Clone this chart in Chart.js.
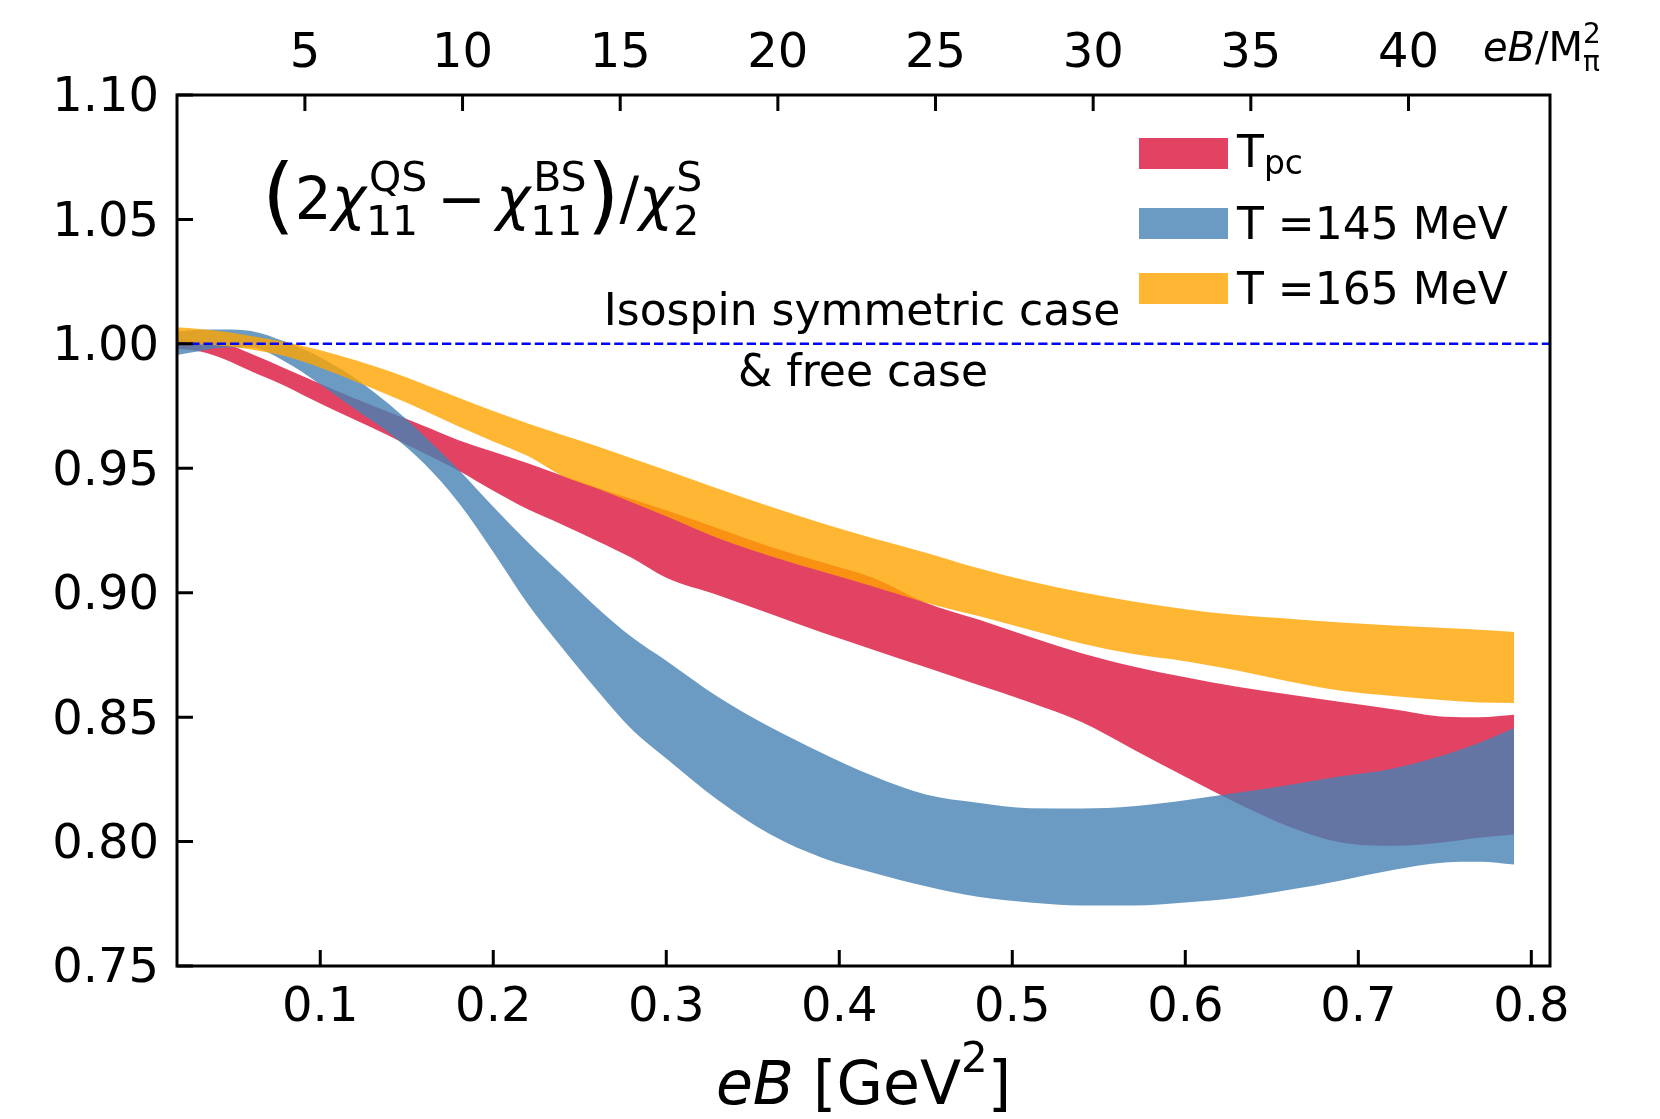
<!DOCTYPE html>
<html>
<head>
<meta charset="utf-8">
<title>Strangeness correlator ratio vs eB</title>
<script src="https://cdn.jsdelivr.net/npm/chart.js@4.4.1/dist/chart.umd.min.js"></script>
<style>
  body { margin: 0; background: #fff; }
  canvas { display: block; }
</style>
</head>
<body>
<canvas id="myChart" width="1660" height="1119"></canvas>
<script>
// eB in GeV^2
var eB = [0.0172, 0.03, 0.045, 0.06, 0.08, 0.10, 0.12, 0.14, 0.16, 0.18, 0.20, 0.22, 0.24, 0.26, 0.28, 0.30,
          0.33, 0.36, 0.39, 0.42, 0.45, 0.48, 0.51, 0.54, 0.57, 0.60, 0.63, 0.66, 0.69, 0.72, 0.75, 0.77, 0.79];

// band edges (upper / lower)
var tpcUpper = [1.002, 1.001, 1.000, 0.996, 0.990, 0.984, 0.978, 0.9725, 0.967, 0.9613, 0.9566, 0.952, 0.947, 0.9422, 0.9377, 0.9331,
                0.9258, 0.9185, 0.9122, 0.9058, 0.896, 0.8893, 0.8823, 0.8757, 0.8704, 0.866, 0.8622, 0.8591, 0.8561, 0.8532, 0.8502, 0.850, 0.851];
var tpcLower = [0.998, 0.997, 0.9937, 0.989, 0.983, 0.976, 0.9695, 0.963, 0.956, 0.949, 0.941, 0.9335, 0.9273, 0.9208, 0.914, 0.906,
                0.899, 0.8915, 0.884, 0.877, 0.870, 0.863, 0.856, 0.848, 0.837, 0.826, 0.8154, 0.806, 0.7996, 0.7983, 0.7997, 0.8015, 0.8028];

var t145Upper = [1.005, 1.0057, 1.0058, 1.0052, 1.0008, 0.9946, 0.9863, 0.9756, 0.9631, 0.9494, 0.9345, 0.9203, 0.9071, 0.894, 0.8822, 0.8727,
                 0.8581, 0.846, 0.8356, 0.8262, 0.8189, 0.8156, 0.8134, 0.8133, 0.8142, 0.8166, 0.8196, 0.8227, 0.8262, 0.8294, 0.8349, 0.8397, 0.8456];
var t145Lower = [0.9955, 0.997, 0.9985, 0.9985, 0.9927, 0.9837, 0.9738, 0.9641, 0.9519, 0.9362, 0.9164, 0.8955, 0.8777, 0.8608, 0.8451, 0.8334,
                 0.8166, 0.8029, 0.7935, 0.7874, 0.782, 0.7778, 0.7755, 0.7743, 0.7743, 0.7755, 0.7774, 0.7806, 0.7844, 0.7886, 0.7916, 0.7919, 0.7908];

var t165Upper = [1.0067, 1.006, 1.0049, 1.0032, 1.0007, 0.9974, 0.9935, 0.989, 0.9838, 0.9783, 0.973, 0.968, 0.9634, 0.9589, 0.954, 0.9492,
                 0.9418, 0.9346, 0.9279, 0.9218, 0.9161, 0.9099, 0.9046, 0.9002, 0.8965, 0.8934, 0.891, 0.8895, 0.888, 0.8868, 0.8858, 0.8851, 0.8842];
var t165Lower = [1.0002, 0.9997, 0.9991, 0.9977, 0.995, 0.9904, 0.985, 0.9792, 0.9732, 0.9668, 0.9608, 0.9549, 0.9469, 0.9419, 0.9364, 0.9307,
                 0.9219, 0.9148, 0.9085, 0.9024, 0.896, 0.8907, 0.8851, 0.8796, 0.8754, 0.8725, 0.8687, 0.8643, 0.8606, 0.8585, 0.8568, 0.8559, 0.8557];

var xTicks = [0.1, 0.2, 0.3, 0.4, 0.5, 0.6, 0.7, 0.8];
var yTicks = [0.75, 0.80, 0.85, 0.90, 0.95, 1.00, 1.05, 1.10];
var topTicks = [5, 10, 15, 20, 25, 30, 35, 40];   // eB / M_pi^2
var refLevel = 1.0;

var Mpi2 = 0.135 * 0.135;
var xMin = 0.0172, xMax = 0.8108;

var red = 'rgba(220,20,60,0.8)';
var blue = 'rgba(70,130,180,0.8)';
var orange = 'rgba(255,165,0,0.8)';
var FONT = "'DejaVu Sans'";

function pts(ys) {
  return eB.map(function (x, i) { return {x: x, y: ys[i]}; });
}

function band(label, up, low, color, order) {
  return [
    {label: label, data: pts(up), fill: '+1', backgroundColor: color, borderColor: 'rgba(0,0,0,0)',
     borderWidth: 0, pointRadius: 0, order: order},
    {label: label + ' low', data: pts(low), fill: false, borderColor: 'rgba(0,0,0,0)',
     borderWidth: 0, pointRadius: 0, order: order}
  ];
}

// draws a row of text pieces, returns the end x
function run(ctx, x, y, parts, draw) {
  parts.forEach(function (p) {
    if (p.gap) { x += p.gap; return; }
    ctx.font = p.f;
    if (p.t !== undefined) {
      if (draw) ctx.fillText(p.t, x, y + (p.dy || 0));
      x += ctx.measureText(p.t).width;
    } else {
      var w1 = ctx.measureText(p.sup).width, w2 = ctx.measureText(p.sub).width;
      if (draw) {
        ctx.fillText(p.sup, x + (p.shift || 0), y - p.up);
        ctx.fillText(p.sub, x, y + p.down);
      }
      x += Math.max(w1 + (p.shift || 0), w2);
    }
  });
  return x;
}

var overlay = {
  id: 'overlay',
  afterDraw: function (chart) {
    var ctx = chart.ctx, a = chart.chartArea;
    var sx = chart.scales.x, sy = chart.scales.y, st = chart.scales.x2;
    ctx.save();

    // isospin symmetric reference line
    var yRef = sy.getPixelForValue(refLevel);
    ctx.strokeStyle = '#0000ff';
    ctx.lineWidth = 2.5;
    ctx.setLineDash([9.25, 4]);
    ctx.beginPath(); ctx.moveTo(a.left, yRef); ctx.lineTo(a.right, yRef); ctx.stroke();
    ctx.setLineDash([]);

    // frame and inward ticks
    ctx.strokeStyle = '#000';
    ctx.lineWidth = 3;
    ctx.strokeRect(a.left, a.top, a.right - a.left, a.bottom - a.top);
    ctx.beginPath();
    xTicks.forEach(function (v) { var p = sx.getPixelForValue(v); ctx.moveTo(p, a.bottom); ctx.lineTo(p, a.bottom - 16); });
    topTicks.forEach(function (v) { var p = st.getPixelForValue(v); ctx.moveTo(p, a.top); ctx.lineTo(p, a.top + 16); });
    yTicks.forEach(function (v) { var p = sy.getPixelForValue(v); ctx.moveTo(a.left, p); ctx.lineTo(a.left + 16, p); });
    ctx.stroke();

    ctx.fillStyle = '#000';
    ctx.textBaseline = 'alphabetic';
    ctx.textAlign = 'left';

    // formula
    var fN = '58px ' + FONT, fI = 'italic 58px ' + FONT, fS = '41px ' + FONT, fP = '84px ' + FONT;
    run(ctx, 262, 219, [
      {t: '(', f: fP, dy: 5},
      {t: '2', f: fN},
      {t: 'χ', f: fI},
      {sup: 'QS', sub: '11', f: fS, up: 28, down: 16, shift: 3},
      {gap: 10}, {t: '−', f: fN}, {gap: 10},
      {t: 'χ', f: fI},
      {sup: 'BS', sub: '11', f: fS, up: 28, down: 16, shift: 3},
      {t: ')', f: fP, dy: 5},
      {t: '/', f: fN},
      {t: 'χ', f: fI},
      {sup: 'S', sub: '2', f: fS, up: 28, down: 16, shift: 3}
    ], true);

    // bottom axis title
    var title = [
      {t: 'eB', f: 'italic 60px ' + FONT},
      {t: ' [GeV', f: '60px ' + FONT},
      {t: '2', f: '42px ' + FONT, dy: -32},
      {t: ']', f: '60px ' + FONT}
    ];
    var tw = run(ctx, 0, 0, title, false);
    run(ctx, (a.left + a.right) / 2 - tw / 2, 1104, title, true);

    // top axis unit
    run(ctx, 1483, 61, [
      {t: 'eB', f: 'italic 40px ' + FONT},
      {t: '/M', f: '40px ' + FONT},
      {sup: '2', sub: 'π', f: '28px ' + FONT, up: 18, down: 10}
    ], true);

    // annotation
    ctx.font = '44px ' + FONT;
    ctx.textAlign = 'center';
    ctx.fillText('Isospin symmetric case', 862, 325);
    ctx.fillText('& free case', 863, 386);
    ctx.textAlign = 'left';

    // legend
    var lx = 1139, lw = 89, lh = 31;
    ctx.fillStyle = red; ctx.fillRect(lx, 138, lw, lh);
    ctx.fillStyle = blue; ctx.fillRect(lx, 208, lw, lh);
    ctx.fillStyle = orange; ctx.fillRect(lx, 273, lw, lh);
    ctx.fillStyle = '#000';
    run(ctx, 1237, 167, [{t: 'T', f: '44px ' + FONT}, {t: 'pc', f: '33px ' + FONT, dy: 7}], true);
    ctx.font = '44px ' + FONT;
    ctx.fillText('T =145 MeV', 1237, 239);
    ctx.fillText('T =165 MeV', 1237, 304);

    ctx.restore();
  }
};

function fixBox(size, vertical) {
  return function (s) {
    if (vertical) s.width = size; else s.height = size;
    s.paddingLeft = 0; s.paddingRight = 0; s.paddingTop = 0; s.paddingBottom = 0;
  };
}

var tickFont = {family: FONT, size: 48};

var ctx = document.getElementById('myChart').getContext('2d');
var chart = new Chart(ctx, {
  type: 'line',
  data: {
    datasets: [].concat(
      band('Tpc', tpcUpper, tpcLower, red, 3),
      band('T =145 MeV', t145Upper, t145Lower, blue, 2),
      band('T =165 MeV', t165Upper, t165Lower, orange, 1)
    )
  },
  options: {
    responsive: false,
    animation: false,
    devicePixelRatio: 1,
    layout: {padding: {left: 0, right: 110, top: 0, bottom: 0}},
    elements: {line: {cubicInterpolationMode: 'monotone'}},
    plugins: {legend: {display: false}, tooltip: {enabled: false}},
    scales: {
      x: {
        type: 'linear', position: 'bottom', min: xMin, max: xMax,
        afterBuildTicks: function (s) { s.ticks = xTicks.map(function (v) { return {value: v}; }); },
        afterFit: fixBox(153, false),
        grid: {display: false, drawTicks: false},
        border: {display: false},
        ticks: {font: tickFont, color: '#000', padding: 14, maxRotation: 0, autoSkip: false,
                callback: function (v) { return v.toFixed(1); }}
      },
      x2: {
        type: 'linear', position: 'top', display: true, min: xMin / Mpi2, max: xMax / Mpi2,
        afterBuildTicks: function (s) { s.ticks = topTicks.map(function (v) { return {value: v}; }); },
        afterFit: fixBox(95, false),
        grid: {display: false, drawTicks: false},
        border: {display: false},
        ticks: {font: tickFont, color: '#000', padding: 12, maxRotation: 0, autoSkip: false,
                callback: function (v) { return String(v); }}
      },
      y: {
        type: 'linear', position: 'left', min: 0.75, max: 1.10,
        afterBuildTicks: function (s) { s.ticks = yTicks.map(function (v) { return {value: v}; }); },
        afterFit: fixBox(177, true),
        grid: {display: false, drawTicks: false},
        border: {display: false},
        ticks: {font: tickFont, color: '#000', padding: 18, labelOffset: 4, autoSkip: false,
                callback: function (v) { return v.toFixed(2); }}
      }
    }
  },
  plugins: [overlay]
});
</script>
</body>
</html>
